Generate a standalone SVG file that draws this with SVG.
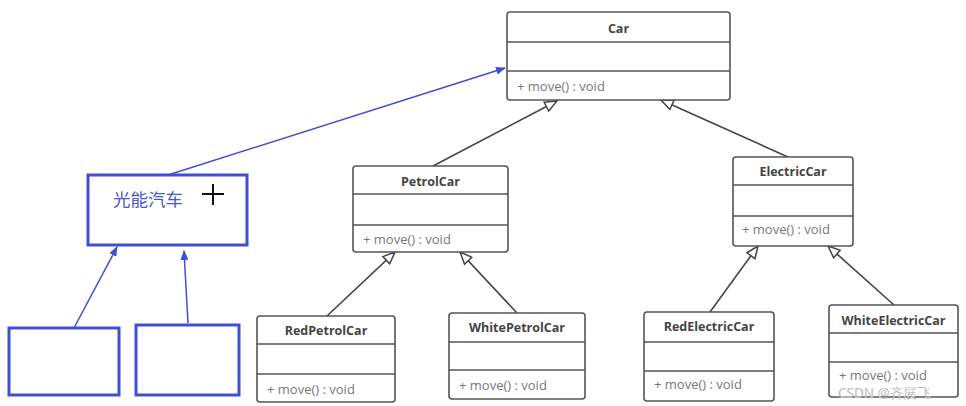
<svg xmlns="http://www.w3.org/2000/svg" width="966" height="406" viewBox="0 0 966 406">
<defs>
<style>
.box{fill:#fff;stroke:#555;stroke-width:1.6}
.div{stroke:#555;stroke-width:1.4}
.title{font-family:"Open Sans","Liberation Sans",sans-serif;font-size:12.5px;font-weight:bold;fill:#444;text-anchor:middle}
.meth{font-family:"Open Sans","Liberation Sans",sans-serif;font-size:13px;fill:#777}
.inh{stroke:#444;stroke-width:1.6;fill:none;marker-end:url(#tri)}
.bl{stroke:#3f4fd0;stroke-width:1.5;fill:none;marker-end:url(#barr)}
.bbox{fill:#fff;stroke:#3f4fd0;stroke-width:3}
</style>
<marker id="tri" viewBox="0 0 14 12" refX="13" refY="6" markerWidth="14" markerHeight="12" markerUnits="userSpaceOnUse" orient="auto">
<path d="M1,1 L13,6 L1,11 Z" fill="#fff" stroke="#444" stroke-width="1.5"/>
</marker>
<marker id="barr" viewBox="0 0 10 8" refX="9" refY="4" markerWidth="10" markerHeight="8" markerUnits="userSpaceOnUse" orient="auto">
<path d="M0,0 L10,4 L0,8 Z" fill="#3f4fd0"/>
</marker>
</defs>
<rect width="966" height="406" fill="#fff"/>
<g id="connectors">
<line class="inh" x1="433" y1="166" x2="557" y2="101"/>
<line class="inh" x1="788" y1="157" x2="661" y2="100"/>
<line class="inh" x1="327" y1="316" x2="395" y2="252"/>
<line class="inh" x1="517" y1="313" x2="460" y2="252"/>
<line class="inh" x1="710" y1="312" x2="758" y2="246"/>
<line class="inh" x1="894" y1="305" x2="828" y2="246"/>
<line class="bl" x1="168" y1="175" x2="505" y2="68"/>
<line class="bl" x1="74" y1="328" x2="117" y2="247"/>
<line class="bl" x1="188" y1="323" x2="184" y2="251"/>
</g>
<g id="Car">
<rect class="box" x="507" y="12" width="223" height="88" rx="3"/>
<line class="div" x1="507" y1="42" x2="730" y2="42"/>
<line class="div" x1="507" y1="71" x2="730" y2="71"/>
<text class="title" x="618.5" y="33">Car</text>
<text class="meth" x="517" y="91">+ move() : void</text>
</g>
<g id="PetrolCar">
<rect class="box" x="353" y="166" width="155" height="86" rx="3"/>
<line class="div" x1="353" y1="194" x2="508" y2="194"/>
<line class="div" x1="353" y1="225" x2="508" y2="225"/>
<text class="title" x="430.5" y="186">PetrolCar</text>
<text class="meth" x="363" y="244">+ move() : void</text>
</g>
<g id="ElectricCar">
<rect class="box" x="733" y="157" width="120" height="89" rx="3"/>
<line class="div" x1="733" y1="185" x2="853" y2="185"/>
<line class="div" x1="733" y1="216" x2="853" y2="216"/>
<text class="title" x="793" y="176">ElectricCar</text>
<text class="meth" x="742" y="234">+ move() : void</text>
</g>
<g id="RedPetrolCar">
<rect class="box" x="257" y="316" width="138" height="86" rx="3"/>
<line class="div" x1="257" y1="344" x2="395" y2="344"/>
<line class="div" x1="257" y1="374" x2="395" y2="374"/>
<text class="title" x="326" y="335">RedPetrolCar</text>
<text class="meth" x="267" y="394">+ move() : void</text>
</g>
<g id="WhitePetrolCar">
<rect class="box" x="449" y="313" width="136" height="86" rx="3"/>
<line class="div" x1="449" y1="342" x2="585" y2="342"/>
<line class="div" x1="449" y1="370" x2="585" y2="370"/>
<text class="title" x="517" y="332">WhitePetrolCar</text>
<text class="meth" x="459" y="390">+ move() : void</text>
</g>
<g id="RedElectricCar">
<rect class="box" x="644" y="312" width="130" height="89" rx="3"/>
<line class="div" x1="644" y1="342" x2="774" y2="342"/>
<line class="div" x1="644" y1="371" x2="774" y2="371"/>
<text class="title" x="709" y="331">RedElectricCar</text>
<text class="meth" x="654" y="389">+ move() : void</text>
</g>
<g id="WhiteElectricCar">
<rect class="box" x="829" y="305" width="129" height="92" rx="3"/>
<line class="div" x1="829" y1="333" x2="958" y2="333"/>
<line class="div" x1="829" y1="362" x2="958" y2="362"/>
<text class="title" x="893.5" y="325">WhiteElectricCar</text>
<text class="meth" x="839" y="380">+ move() : void</text>
</g>
<g id="SolarCar">
<rect class="bbox" x="88" y="175" width="159" height="70"/>
<text x="148" y="206" font-family="'Noto Sans CJK SC','Noto Sans',sans-serif" font-size="17.5" fill="#4a58d0" text-anchor="middle">光能汽车</text>
<line x1="202" y1="194" x2="224" y2="194" stroke="#111" stroke-width="2"/>
<line x1="213" y1="184" x2="213" y2="205" stroke="#111" stroke-width="2"/>
</g>
<g id="SubBox1">
<rect class="bbox" x="9" y="328" width="110" height="67"/>
</g>
<g id="SubBox2">
<rect class="bbox" x="136" y="325" width="103" height="70"/>
</g>
<text x="838" y="398" font-family="'Noto Sans','Noto Sans CJK SC',sans-serif" font-size="13.5" fill="#999" stroke="#fff" stroke-width="0.3">CSDN @齐展飞</text>
</svg>
